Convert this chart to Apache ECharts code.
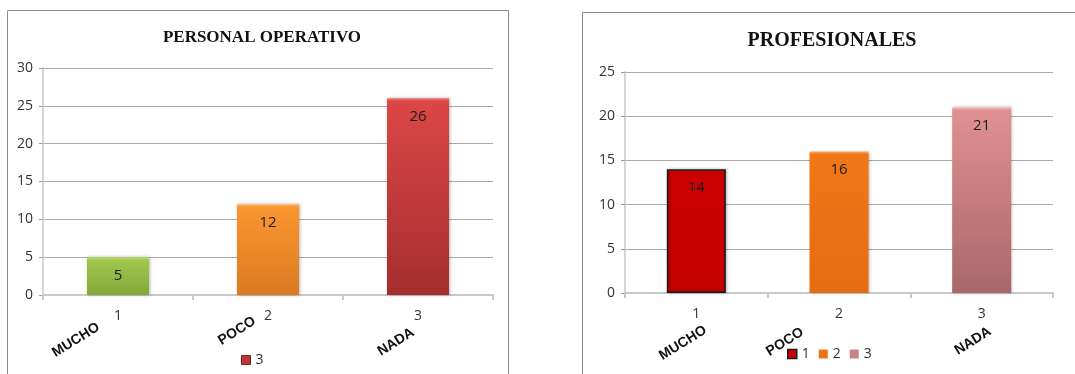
<!DOCTYPE html>
<html>
<head>
<meta charset="utf-8">
<script src="https://cdn.jsdelivr.net/npm/echarts@6/dist/echarts.min.js"></script>
<style>
  html, body { margin: 0; padding: 0; background: #ffffff; }
  #chart { width: 1075px; height: 374px; }
</style>
</head>
<body>
<div id="chart"></div>
<script>
// Survey answers per group
const categories = ['1', '2', '3'];
const answerNames = ['MUCHO', 'POCO', 'NADA'];
const operativoValues = [5, 12, 26];
const profesionalesValues = [14, 16, 21];
const operativoTicks = { min: 0, max: 30, interval: 5 };
const profesionalesTicks = { min: 0, max: 25, interval: 5 };

const opGrid = { left: 43, top: 68, width: 450, height: 227 };
const profGrid = { left: 625, top: 72, width: 428, height: 221 };

// Vertical fill with a thin lighter bevel along the bar's top edge
function bevel(top, base, bottom, value, ticks, grid) {
  const px = value / (ticks.max - ticks.min) * grid.height;
  const edge = Math.min(0.3, 3 / px);
  return new echarts.graphic.LinearGradient(0, 0, 0, 1, [
    { offset: 0, color: top },
    { offset: edge, color: base },
    { offset: 1, color: bottom }
  ]);
}

const opPalette = [
  ['#c2e07a', '#a2c74f', '#84a838'],
  ['#ffbf6a', '#f9962f', '#dc7a22'],
  ['#f07a7a', '#dc4646', '#a42e2e']
];
const profPalette = [
  ['#f03a3a', '#cc0000', '#c40000'],
  ['#fca45a', '#f07818', '#e66c10'],
  ['#f4bcbc', '#e09090', '#a86868']
];

const chart = echarts.init(document.getElementById('chart'), null, { renderer: 'canvas' });

const labelFont = { fontFamily: 'Open Sans', fontSize: 14, color: '#333333' };

function yAxis(gridIndex, ticks) {
  return {
    type: 'value', gridIndex,
    min: ticks.min, max: ticks.max, interval: ticks.interval,
    axisLine: { show: true, lineStyle: { color: '#d4d4d4', width: 2 } },
    axisTick: { show: true, length: 4, lineStyle: { color: '#999999' } },
    axisLabel: { ...labelFont, margin: 10 },
    splitLine: { lineStyle: { color: '#a8a8a8', width: 1 } }
  };
}
function xAxis(gridIndex) {
  return {
    type: 'category', gridIndex, data: categories,
    axisLine: { lineStyle: { color: '#c8c8c8', width: 2 } },
    axisTick: { show: true, length: 5, lineStyle: { color: '#c8c8c8', width: 2 } },
    axisLabel: { ...labelFont, margin: 14 }
  };
}

const valueLabel = {
  show: true, position: 'insideTop', distance: 11,
  fontFamily: 'Open Sans', fontSize: 15, color: '#1a1a1a'
};
const barShadow = { shadowColor: 'rgba(0,0,0,0.3)', shadowBlur: 3, shadowOffsetX: 1, shadowOffsetY: 0 };

const series = [
  {
    name: '3', type: 'bar', xAxisIndex: 0, yAxisIndex: 0,
    barWidth: 62,
    itemStyle: { color: '#c83c3c', ...barShadow },
    label: valueLabel,
    data: operativoValues.map((v, i) => ({
      value: v,
      itemStyle: { color: bevel(...opPalette[i], v, operativoTicks, opGrid) }
    }))
  }
];
profesionalesValues.forEach((v, i) => {
  const style = { color: bevel(...profPalette[i], v, profesionalesTicks, profGrid), ...barShadow };
  if (i === 0) { style.borderColor = '#1a1a1a'; style.borderWidth = 1.5; }
  series.push({
    name: categories[i], type: 'bar', xAxisIndex: 1, yAxisIndex: 1,
    barWidth: 59, barGap: '-100%',
    itemStyle: style,
    label: valueLabel,
    data: categories.map((c, j) => (j === i ? v : null))
  });
});

const legendText = { fontFamily: 'Open Sans', fontSize: 14, color: '#333333' };

chart.setOption({
  animation: false,
  backgroundColor: '#ffffff',
  title: [
    { text: 'PERSONAL OPERATIVO', left: 257, top: 24, textAlign: 'center',
      textStyle: { fontFamily: 'Liberation Serif', fontWeight: 'bold', fontSize: 17, color: '#111111' } },
    { text: 'PROFESIONALES', left: 827, top: 26, textAlign: 'center',
      textStyle: { fontFamily: 'Liberation Serif', fontWeight: 'bold', fontSize: 20, color: '#111111' } }
  ],
  grid: [opGrid, profGrid],
  xAxis: [xAxis(0), xAxis(1)],
  yAxis: [yAxis(0, operativoTicks), yAxis(1, profesionalesTicks)],
  legend: [
    { data: [{ name: '3', itemStyle: { color: '#c03636', borderColor: '#7a2020', borderWidth: 1 } }],
      left: 241, top: 353, icon: 'rect', itemWidth: 9, itemHeight: 9, itemGap: 8, padding: 0,
      textStyle: legendText, selectedMode: false },
    { data: [
        { name: '1', itemStyle: { color: '#cc0000', borderColor: '#1a1a1a', borderWidth: 1.5 } },
        { name: '2', itemStyle: { color: '#ea7416' } },
        { name: '3', itemStyle: { color: '#c88484' } }
      ],
      left: 787, top: 347, icon: 'rect', itemWidth: 9, itemHeight: 9, itemGap: 9, padding: 0,
      textStyle: legendText, selectedMode: false }
  ],
  series
});

// Chart frames and the rotated answer names under each axis
const answerFont = { fontFamily: 'Liberation Sans', fontWeight: 'bold', fontSize: 14, fill: '#111111' };
const opAnswerCenters = [[76, 340], [237, 331], [396, 342]];
const profAnswerCenters = [[683, 343], [785, 342], [973, 341]];
const rot = 32 * Math.PI / 180;

const graphics = [
  { type: 'rect', shape: { x: 7.5, y: 10.5, width: 501, height: 380 }, style: { fill: 'none', stroke: '#8c8c8c', lineWidth: 1 }, z: -1 },
  { type: 'rect', shape: { x: 582.5, y: 12.5, width: 510, height: 380 }, style: { fill: 'none', stroke: '#8c8c8c', lineWidth: 1 }, z: -1 }
];
[opAnswerCenters, profAnswerCenters].forEach(centers => {
  centers.forEach((c, i) => {
    graphics.push({
      type: 'text', x: c[0], y: c[1], rotation: rot,
      style: { text: answerNames[i], ...answerFont, align: 'center', verticalAlign: 'middle' }
    });
  });
});
chart.setOption({ graphic: graphics });
</script>
</body>
</html>
